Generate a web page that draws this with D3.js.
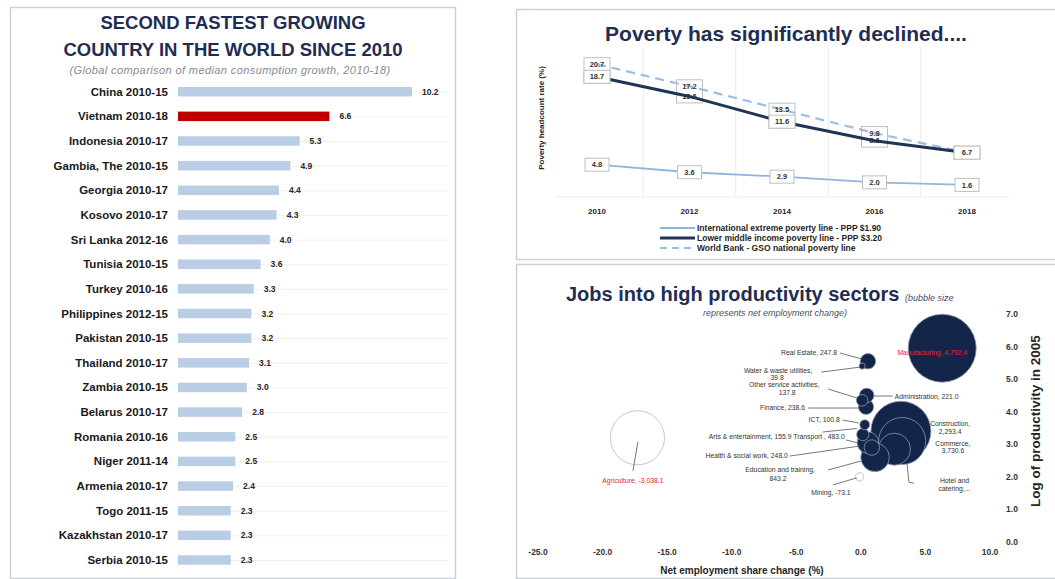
<!DOCTYPE html>
<html><head><meta charset="utf-8">
<script src="https://cdn.jsdelivr.net/npm/d3@7"></script>
<style>
html,body{margin:0;padding:0;background:#fff;}
svg{display:block;font-family:"Liberation Sans",Arial,sans-serif;}
</style></head>
<body><svg id="c" width="1055" height="579"></svg>
<script>
// ---------- DATA ----------
const countries = ["China 2010-15","Vietnam 2010-18","Indonesia 2010-17","Gambia, The 2010-15","Georgia 2010-17","Kosovo 2010-17","Sri Lanka 2012-16","Tunisia 2010-15","Turkey 2010-16","Philippines 2012-15","Pakistan 2010-15","Thailand 2010-17","Zambia 2010-15","Belarus 2010-17","Romania 2010-16","Niger 2011-14","Armenia 2010-17","Togo 2011-15","Kazakhstan 2010-17","Serbia 2010-15"];
const growth = [10.2,6.6,5.3,4.9,4.4,4.3,4.0,3.6,3.3,3.2,3.2,3.1,3.0,2.8,2.5,2.5,2.4,2.3,2.3,2.3];

const years = ["2010","2012","2014","2016","2018"];
const extremePoverty = [4.8,3.6,2.9,2.0,1.6];
const lmicPoverty = [18.7,15.6,11.6,8.6,6.7];
const nationalPoverty = [20.7,17.2,13.5,9.8,6.7];
const povertySeries = ["International extreme poverty line  - PPP $1.90","Lower middle income poverty line - PPP $3.20","World Bank - GSO national poverty line"];

const sectors = ["Manufacturing","Commerce","Agriculture","Construction","Hotel and catering","Education and training","Transport","Health & social work","Real Estate","Finance","Administration","Arts & entertainment","Other service activities","ICT","Water & waste utilities","Mining"];
const shareChange = [6.3,3.1,-17.3,3.2,2.6,1.1,0.55,0.85,0.55,0.4,0.45,0.15,0.1,0.3,0.1,-0.1];
const logProductivity = [5.95,3.4,3.2,3.1,2.85,2.6,3.05,2.9,5.55,4.15,4.5,3.3,4.35,3.6,5.4,2.0];
const netEmployment = [4792.4,3730.6,-3038.1,2293.4,1060.0,843.2,483.0,248.0,247.8,238.6,221.0,155.9,137.8,100.8,39.8,-73.1];
const xTicks = [-25,-20,-15,-10,-5,0,5,10];
const yTicks = [0,1,2,3,4,5,6,7];

// ---------- SETUP ----------
const svg = d3.select("#c");
const navy = "#1f2d52";
const fmt1 = v => d3.format(".1f")(v).replace("\u2212","-");
const fmtC = v => d3.format(",.1f")(v).replace("\u2212","-");

[[10.5,7.5,445,571],[516.5,9.5,545,250],[516.5,264.5,545,314]].forEach(b=>{
  svg.append("rect").attr("x",b[0]).attr("y",b[1]).attr("width",b[2]).attr("height",b[3])
    .attr("fill","none").attr("stroke","#c9d0da").attr("stroke-width",1.5);
});

// ---------- LEFT: bar chart ----------
const L = svg.append("g");
L.append("text").attr("x",233).attr("y",29).attr("text-anchor","middle")
  .attr("font-size",18.5).attr("font-weight","bold").attr("fill",navy).text("SECOND FASTEST GROWING");
L.append("text").attr("x",233).attr("y",56).attr("text-anchor","middle")
  .attr("font-size",18.5).attr("font-weight","bold").attr("fill",navy).text("COUNTRY IN THE WORLD SINCE 2010");
L.append("text").attr("x",230).attr("y",74).attr("text-anchor","middle")
  .attr("font-size",11).attr("letter-spacing",0.4).attr("font-style","italic").attr("fill","#8a8a8a")
  .text("(Global comparison of median consumption growth,  2010-18)");

const by = d3.scalePoint().domain(countries).range([91.7,560]);
const bx = d3.scaleLinear().domain([0,10.2]).range([178,412]);
const barH = 9.5;

L.selectAll("line.grid").data(countries).join("line")
  .attr("x1",bx(0)).attr("x2",448).attr("y1",d=>by(d)+0.5).attr("y2",d=>by(d)+0.5)
  .attr("stroke","#efefef").attr("stroke-width",1);
L.selectAll("rect.bar").data(countries).join("rect")
  .attr("x",bx(0)).attr("y",d=>by(d)-barH/2)
  .attr("width",(d,i)=>bx(growth[i])-bx(0)).attr("height",barH)
  .attr("fill",(d,i)=>i===1?"#c00000":"#b9cde5");
L.selectAll("text.cat").data(countries).join("text")
  .attr("x",168).attr("y",d=>by(d)).attr("dy","0.35em").attr("text-anchor","end")
  .attr("font-size",11.5).attr("font-weight","bold").attr("fill","#1a1a1a").text(d=>d);
L.selectAll("text.val").data(countries).join("text")
  .attr("x",(d,i)=>bx(growth[i])+10).attr("y",d=>by(d)).attr("dy","0.35em")
  .attr("font-size",8.5).attr("font-weight","bold").attr("fill","#262626").text((d,i)=>fmt1(growth[i]));

// ---------- TOP RIGHT: poverty lines ----------
const P = svg.append("g");
P.append("text").attr("x",786).attr("y",41).attr("text-anchor","middle")
  .attr("font-size",21).attr("font-weight","bold").attr("fill",navy).text("Poverty has significantly declined....");
const px = d3.scalePoint().domain(years).range([597,967]);
const py = d3.scaleLinear().domain([0,25]).range([195,37]);
const mids = years.slice(1).map((y,i)=>(px(years[i])+px(y))/2);
P.selectAll("line.vg").data(mids).join("line")
  .attr("x1",d=>d).attr("x2",d=>d).attr("y1",48).attr("y2",197).attr("stroke","#ececec");
P.append("line").attr("x1",555).attr("x2",1010).attr("y1",197).attr("y2",197).attr("stroke","#ececec");
P.append("text").attr("transform","translate(544,118) rotate(-90)").attr("text-anchor","middle")
  .attr("font-size",8).attr("font-weight","bold").attr("fill","#262626").text("Poverty headcount rate (%)");
P.selectAll("text.xt").data(years).join("text")
  .attr("x",d=>px(d)).attr("y",214).attr("text-anchor","middle")
  .attr("font-size",8).attr("font-weight","bold").attr("fill","#262626").text(d=>d);

const lineGen = vals => d3.line().x((d,i)=>px(years[i])).y(d=>py(d))(vals);
years.forEach((yr,i)=>{
  const x = px(yr);
  const top = py(nationalPoverty[i]), bot = py(lmicPoverty[i]);
  const same = Math.abs(top-bot)<3;
  P.append("rect").attr("x",x-13).attr("y",(same?bot:top)-6.5).attr("width",26)
    .attr("height",same?13:(bot-top)+13).attr("fill","#fff").attr("stroke","#bfbfbf").attr("stroke-width",1);
});
P.append("path").attr("d",lineGen(nationalPoverty)).attr("fill","none")
  .attr("stroke","#9dbde2").attr("stroke-width",2.2).attr("stroke-dasharray","9,6");
P.append("path").attr("d",lineGen(extremePoverty)).attr("fill","none")
  .attr("stroke","#8eb4df").attr("stroke-width",1.8);
years.forEach((yr,i)=>{
  P.append("rect").attr("x",px(yr)-12).attr("y",py(extremePoverty[i])-6.5).attr("width",24).attr("height",13)
    .attr("fill","#fff").attr("stroke","#bfbfbf");
  P.append("text").attr("x",px(yr)).attr("y",py(extremePoverty[i])).attr("dy","0.35em").attr("text-anchor","middle")
    .attr("font-size",7.5).attr("font-weight","bold").attr("fill","#333").text(fmt1(extremePoverty[i]));
});
years.forEach((yr,i)=>{
  if (Math.abs(py(nationalPoverty[i])-py(lmicPoverty[i]))<3) return;
  P.append("text").attr("x",px(yr)).attr("y",py(lmicPoverty[i])).attr("dy","0.35em").attr("text-anchor","middle")
    .attr("font-size",7.5).attr("font-weight","bold").attr("fill","#333").text(fmt1(lmicPoverty[i]));
});
P.append("path").attr("d",lineGen(lmicPoverty)).attr("fill","none")
  .attr("stroke","#1f3554").attr("stroke-width",3);
[0,2,4].forEach(i=>{
  const x = px(years[i]);
  const yb = py(lmicPoverty[i]);
  P.append("rect").attr("x",x-13).attr("y",yb-6.5).attr("width",26).attr("height",13)
    .attr("fill","#fff").attr("stroke","#bfbfbf");
  P.append("text").attr("x",x).attr("y",yb).attr("dy","0.35em").attr("text-anchor","middle")
    .attr("font-size",7.5).attr("font-weight","bold").attr("fill","#333").text(fmt1(lmicPoverty[i]));
});
years.forEach((yr,i)=>{
  if (Math.abs(py(nationalPoverty[i])-py(lmicPoverty[i]))<3) return;
  P.append("text").attr("x",px(yr)).attr("y",py(nationalPoverty[i])).attr("dy","0.35em").attr("text-anchor","middle")
    .attr("font-size",7.5).attr("font-weight","bold").attr("fill","#333").text(fmt1(nationalPoverty[i]));
});
const legStyles = [
  {stroke:"#8eb4df", w:1.8, dash:null},
  {stroke:"#1f3554", w:3, dash:null},
  {stroke:"#9dbde2", w:2, dash:"7,5"}];
povertySeries.forEach((s,i)=>{
  const y = 228 + i*10;
  P.append("line").attr("x1",660).attr("x2",695).attr("y1",y).attr("y2",y)
    .attr("stroke",legStyles[i].stroke).attr("stroke-width",legStyles[i].w)
    .attr("stroke-dasharray",legStyles[i].dash);
  P.append("text").attr("x",697).attr("y",y).attr("dy","0.35em").attr("font-size",8.5)
    .attr("font-weight","bold").attr("fill","#262626").text(s);
});

// ---------- BOTTOM RIGHT: bubble chart ----------
const B = svg.append("g");
const titleT = B.append("text").attr("x",566).attr("y",301).attr("font-size",20).attr("font-weight","bold").attr("fill",navy);
titleT.append("tspan").text("Jobs into high productivity sectors ");
titleT.append("tspan").attr("font-size",9).attr("font-weight","normal").attr("font-style","italic").attr("fill","#44506a").text("(bubble size");
B.append("text").attr("x",775).attr("y",316).attr("text-anchor","middle").attr("font-size",9)
  .attr("font-style","italic").attr("fill","#44506a").text("represents net employment change)");

const bxs = d3.scaleLinear().domain([-25,10]).range([538,990]);
const bys = d3.scaleLinear().domain([0,7]).range([542,314]);
const rs = d3.scaleSqrt().domain([0,3730.6]).range([0,30]);

B.selectAll("text.bxt").data(xTicks).join("text")
  .attr("x",d=>bxs(d)).attr("y",555).attr("text-anchor","middle").attr("font-size",8.5)
  .attr("font-weight","bold").attr("fill","#333").text(d=>fmt1(d));
B.selectAll("text.byt").data(yTicks).join("text")
  .attr("x",1012).attr("y",d=>bys(d)).attr("dy","0.35em").attr("text-anchor","middle").attr("font-size",8.5)
  .attr("font-weight","bold").attr("fill","#333").text(d=>fmt1(d));
B.append("text").attr("x",742).attr("y",574).attr("text-anchor","middle").attr("font-size",10)
  .attr("font-weight","bold").attr("fill","#262626").text("Net employment  share change (%)");
B.append("text").attr("transform","translate(1040,421) rotate(-90)").attr("text-anchor","middle")
  .attr("font-size",13.5).attr("font-weight","bold").attr("fill","#262626").text("Log of productivity in 2005");

const order = d3.range(sectors.length).sort((a,b)=>Math.abs(netEmployment[b])-Math.abs(netEmployment[a]));
B.selectAll("circle.bub").data(order).join("circle")
  .attr("cx",i=>bxs(shareChange[i])).attr("cy",i=>bys(logProductivity[i]))
  .attr("r",i=>rs(Math.abs(netEmployment[i])))
  .attr("fill",i=>netEmployment[i]<0?"none":"#13264a")
  .attr("stroke",i=>netEmployment[i]<0?"#c8c8c8":"#8a9ab3").attr("stroke-width",i=>netEmployment[i]<0?1:0.8);

const labelLayout = {
  "Manufacturing":{lines:[[-10,7]],anchor:"middle",color:"#e8202a",text:i=>[`Manufacturing, ${fmtC(netEmployment[i])}`]},
  "Commerce":{lines:[[52,15],[52,22]],anchor:"middle",text:i=>["Commerce,",fmtC(netEmployment[i])]},
  "Agriculture":{lines:[[-4.5,45]],anchor:"middle",color:"#e8202a",leader:[[0.5,4],[-4.5,33]],text:i=>[`Agriculture, ${fmtC(netEmployment[i])}`]},
  "Construction":{lines:[[48,-15],[48,-7]],anchor:"middle",text:i=>["Construction,",fmtC(netEmployment[i])]},
  "Hotel and catering":{lines:[[60,34],[60,42]],anchor:"middle",leader:[[12.5,14],[14.5,33],[19.5,34]],text:i=>["Hotel and","catering,..."]},
  "Education and training":{lines:[[-95,14.7],[-97,23.7]],anchor:"middle",leader:[[-47,12.7],[-14,3.7]],text:i=>["Education and training,",fmtC(netEmployment[i])]},
  "Transport":{lines:[],leader:[[-22,-2.7],[-10,0.3]],text:i=>[]},
  "Arts & entertainment":{lines:[[-18,4.5]],anchor:"end",leader:[[-40,-2.5],[-6,-6]],
     text:i=>[`Arts & entertainment, ${fmtC(netEmployment[i])} Transport , ${fmtC(netEmployment[sectors.indexOf("Transport")])}`]},
  "Health & social work":{lines:[[-84,10.5]],anchor:"end",leader:[[-82,8.5],[-12,-1.5]],text:i=>[`Health & social work, ${fmtC(netEmployment[i])}`]},
  "Finance":{lines:[[-61,3]],anchor:"end",leader:[[-58,1.2],[-7,1.2]],text:i=>[`Finance, ${fmtC(netEmployment[i])}`]},
  "Administration":{lines:[[28,3.6]],anchor:"start",leader:[[7,0.6],[26,0.6]],text:i=>[`Administration, ${fmtC(netEmployment[i])}`]},
  "Other service activities":{lines:[[-78,-13.3],[-75,-5.3]],anchor:"middle",leader:[[-34,-11.3],[-5,-2.3]],text:i=>["Other service activities,",fmtC(netEmployment[i])]},
  "ICT":{lines:[[-25,-2.7]],anchor:"end",leader:[[-22,-4.7],[-6,-1.7]],text:i=>[`ICT, ${fmtC(netEmployment[i])}`]},
  "Water & waste utilities":{lines:[[-84,7],[-85,14]],anchor:"middle",leader:[[-41,6],[-2,1]],text:i=>["Water & waste utilities,",fmtC(netEmployment[i])]},
  "Real Estate":{lines:[[-31,-6.2]],anchor:"end",leader:[[-28,-8.2],[-6,-2.2]],text:i=>[`Real Estate, ${fmtC(netEmployment[i])}`]},
  "Mining":{lines:[[-28.6,18]],anchor:"middle",leader:[[-26.6,8],[-2.6,1]],text:i=>[`Mining, ${fmtC(netEmployment[i])}`]}
};
sectors.forEach((s,i)=>{
  const cx = bxs(shareChange[i]), cy = bys(logProductivity[i]);
  const lay = labelLayout[s];
  if (lay.leader) {
    B.append("path").attr("d",d3.line()(lay.leader.map(p=>[cx+p[0],cy+p[1]])))
      .attr("fill","none").attr("stroke","#555").attr("stroke-width",0.8);
  }
  lay.text(i).forEach((t,k)=>{
    B.append("text").attr("x",cx+lay.lines[k][0]).attr("y",cy+lay.lines[k][1])
      .attr("text-anchor",lay.anchor).attr("font-size",6.8)
      .attr("fill",lay.color||"#333").text(t);
  });
});
</script></body></html>
